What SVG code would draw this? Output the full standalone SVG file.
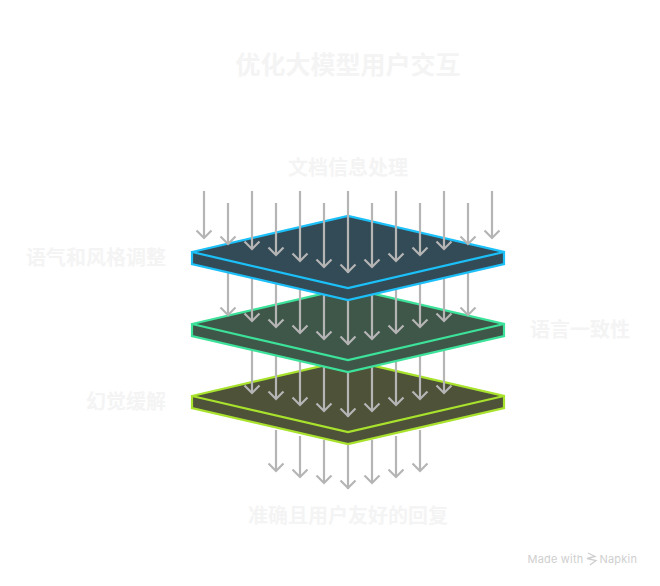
<svg xmlns="http://www.w3.org/2000/svg" width="660" height="586" viewBox="0 0 660 586">
<style>
text{font-family:"Noto Sans CJK SC","Liberation Sans",sans-serif;font-weight:700;fill:#f4f4f4;font-size:20px}
.a{fill:none;stroke:#b5b5b5;stroke-width:2.200}
.p{stroke-width:2.200;stroke-linejoin:miter}
.brand{font-family:Inter,"Liberation Sans",sans-serif;font-weight:400;font-size:11px;fill:#cfcfcf;letter-spacing:.2px}
</style>
<defs>
<path id="h" class="a" d="M-7.500-7.500L0 0L7.500-7.500"/>
</defs>
<rect width="660" height="586" fill="#fff"/>
<text id="title" x="348" y="74" text-anchor="middle" style="font-size:25px">优化大模型用户交互</text>
<g id="connectors-bottom">
<path class="a" d="M276 430V471M300 436V477M324 440V483M348 444V489M372 440V483M396 436V477M420 430V471"/>
<use href="#h" x="276" y="471"/><use href="#h" x="300" y="477"/><use href="#h" x="324" y="483"/><use href="#h" x="348" y="488"/><use href="#h" x="372" y="483"/><use href="#h" x="396" y="477"/><use href="#h" x="420" y="471"/>
</g>
<g id="layer-olive">
<path class="p" fill="#4d5239" stroke="#a8e22c" d="M192 396L348 360L504 396V408L348 444L192 408Z"/>
<path fill="none" class="p" stroke="#a8e22c" d="M192 396L348 432L504 396"/>
</g>
<g id="connectors-olive">
<path class="a" d="M252 340V393M276 340V399M300 340V405M324 340V411M348 360V417M372 340V411M396 340V405M420 340V399M444 340V393"/>
<use href="#h" x="252" y="393"/><use href="#h" x="276" y="399"/><use href="#h" x="300" y="405"/><use href="#h" x="324" y="411"/><use href="#h" x="348" y="416"/><use href="#h" x="372" y="411"/><use href="#h" x="396" y="405"/><use href="#h" x="420" y="399"/><use href="#h" x="444" y="393"/>
</g>
<g id="layer-green">
<path class="p" fill="#3f5749" stroke="#3de29a" d="M192 324L348 288L504 324V336L348 372L192 336Z"/>
<path fill="none" class="p" stroke="#3de29a" d="M192 324L348 360L504 324"/>
</g>
<g id="connectors-green">
<path class="a" d="M228 260V315M252 260V321M276 260V327M300 260V333M324 260V339M348 280V345M372 260V339M396 260V333M420 260V327M444 260V321M468 260V315"/>
<use href="#h" x="228" y="315"/><use href="#h" x="252" y="321"/><use href="#h" x="276" y="327"/><use href="#h" x="300" y="333"/><use href="#h" x="324" y="339"/><use href="#h" x="348" y="344"/><use href="#h" x="372" y="339"/><use href="#h" x="396" y="333"/><use href="#h" x="420" y="327"/><use href="#h" x="444" y="321"/><use href="#h" x="468" y="315"/>
</g>
<g id="layer-blue">
<path class="p" fill="#334b57" stroke="#1cc0f8" d="M192 252L348 216L504 252V264L348 300L192 264Z"/>
<path fill="none" class="p" stroke="#1cc0f8" d="M192 252L348 288L504 252"/>
</g>
<g id="connectors-top">
<path class="a" d="M204 191V237M228 203V243M252 191V249M276 203V255M300 191V261M324 203V267M348 191V273M372 203V267M396 191V261M420 203V255M444 191V249M468 203V243M492 191V237"/>
<use href="#h" x="204" y="238"/><use href="#h" x="228" y="244"/><use href="#h" x="252" y="249"/><use href="#h" x="276" y="255"/><use href="#h" x="300" y="261"/><use href="#h" x="324" y="267"/><use href="#h" x="348" y="272"/><use href="#h" x="372" y="267"/><use href="#h" x="396" y="261"/><use href="#h" x="420" y="255"/><use href="#h" x="444" y="249"/><use href="#h" x="468" y="244"/><use href="#h" x="492" y="238"/>
</g>
<g id="label-input"><text x="348" y="175" text-anchor="middle">文档信息处理</text></g>
<g id="label-tone"><text x="166" y="265" text-anchor="end">语气和风格调整</text></g>
<g id="label-consistency"><text x="530" y="337">语言一致性</text></g>
<g id="label-hallucination"><text x="166" y="409" text-anchor="end">幻觉缓解</text></g>
<g id="label-output"><text x="348" y="523" text-anchor="middle">准确且用户友好的回复</text></g>
<g id="brand">
<text class="brand" x="527.500" y="563">Made with</text>
<path fill="none" stroke="#cfcfcf" stroke-width="1.300" d="M588 553L595 556.500L587 558.500L596 560.500L590 565"/>
<text class="brand" x="599.500" y="563">Napkin</text>
</g>
</svg>
